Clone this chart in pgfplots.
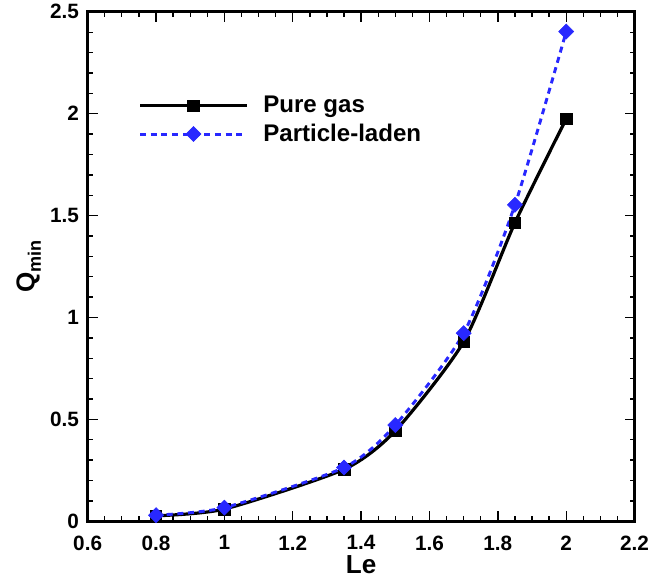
\documentclass[border={9pt 5pt 0pt 0pt}]{standalone}
\usepackage{fontspec}
\setmainfont{Liberation Sans}
\usepackage{pgfplots}
\pgfplotsset{compat=1.18}
\definecolor{pblue}{RGB}{40,40,255}
\begin{document}
\begin{tikzpicture}
\begin{axis}[
  scale only axis,
  width=409pt, height=381pt,
  xmin=0.6, xmax=2.2, ymin=0, ymax=2.5,
  xtick={0.6,0.8,1.0,1.2,1.4,1.6,1.8,2.0,2.2},
  xticklabels={0.6,0.8,1,1.2,1.4,1.6,1.8,2,2.2},
  ytick={0,0.5,1.0,1.5,2.0,2.5},
  yticklabels={0,0.5,1,1.5,2,2.5},
  minor x tick num=3, minor y tick num=4,
  tick align=inside, tick pos=both,
  major tick length=7.5pt, minor tick length=3.8pt,
  every tick/.style={black, line width=1pt},
  axis line style={line width=2.4pt},
  tick label style={font=\bfseries\fontsize{15.5}{17}\selectfont},
  xticklabel style={anchor=north, inner sep=0pt, yshift=-10.5pt},
  yticklabel style={xshift=-3pt},
  xlabel={\bfseries\fontsize{19.5}{21}\selectfont Le},
  ylabel={\bfseries\fontsize{19.5}{21}\selectfont Q\raisebox{-0.45ex}{\fontsize{13.5}{14}\selectfont min}},
  xlabel style={at={(axis description cs:0.5,0)}, anchor=north, inner sep=0pt, yshift=-25.5pt},
  ylabel style={yshift=0pt},
  legend style={draw=none, fill=none, at={(0.085,0.845)}, anchor=north west,
    font=\bfseries\fontsize{18}{20}\selectfont, row sep=3pt,
    /tikz/every odd column/.append style={column sep=9pt}},
  legend cell align=left,
  legend image code/.code={
    \draw[#1] (0pt,0pt) -- (80pt,0pt);
    \draw[#1, only marks] plot coordinates {(40pt,0pt)};
  },
]
\addplot[black, line width=2.4pt, smooth, tension=0.4, mark=square*, mark size=4.3pt, mark options={solid, line width=0.4pt}]
coordinates {(0.8,0.027) (1.0,0.06) (1.35,0.255) (1.5,0.444) (1.7,0.881) (1.85,1.465) (2.0,1.975)};
\addlegendentry{Pure gas}
\addplot[pblue, line width=2.2pt, dash pattern=on 4.5pt off 3.5pt, smooth, tension=0.4, mark=square*, mark size=4pt, mark options={solid, fill=pblue, rotate=45, line width=0.4pt}]
coordinates {(0.8,0.03) (1.0,0.067) (1.35,0.264) (1.5,0.472) (1.7,0.923) (1.85,1.553) (2.0,2.403)};
\addlegendentry{Particle-laden}
\end{axis}
\end{tikzpicture}
\end{document}
